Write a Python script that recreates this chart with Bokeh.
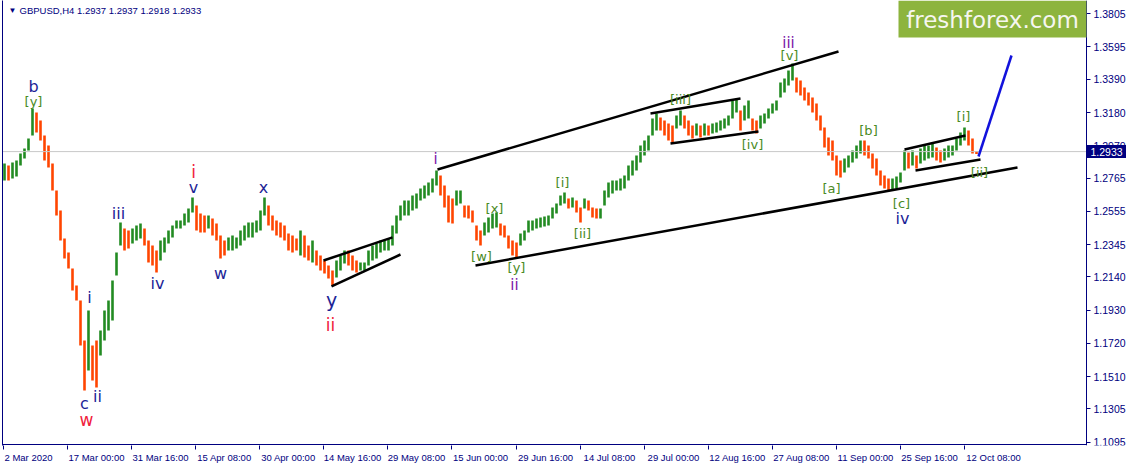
from bokeh.plotting import figure
from bokeh.models import (FixedTicker, LinearAxis, Range1d, Label,
                          BoxAnnotation, ColumnDataSource)
from bokeh.core.properties import value
from bokeh.embed import file_html
from bokeh.resources import INLINE

# ---------------- data ----------------
# aggregated H4 bars (each entry = 4 H4 bars), first at bar index 2
bar_step = 4
highs = [
    1.2858, 1.2845, 1.2864, 1.2877, 1.2921, 1.2953, 1.3016, 1.3206, 1.3180, 1.3130,
    1.3035, 1.2972, 1.2858, 1.2687, 1.2561, 1.2383, 1.2295, 1.2194, 1.2086, 1.1991,
    1.1738, 1.1928, 1.1707, 1.1738, 1.1801, 1.1928, 1.1991, 1.2118, 1.2295, 1.2485,
    1.2447, 1.2434, 1.2447, 1.2466, 1.2478, 1.2447, 1.2371, 1.2339, 1.2308, 1.2371,
    1.2390, 1.2434, 1.2466, 1.2497, 1.2497, 1.2542, 1.2573, 1.2643, 1.2592, 1.2542,
    1.2529, 1.2529, 1.2510, 1.2478, 1.2402, 1.2371, 1.2390, 1.2402, 1.2390, 1.2434,
    1.2466, 1.2485, 1.2485, 1.2497, 1.2561, 1.2643, 1.2592, 1.2529, 1.2497, 1.2485,
    1.2466, 1.2415, 1.2402, 1.2383, 1.2434, 1.2402, 1.2339, 1.2371, 1.2308, 1.2276,
    1.2244, 1.2213, 1.2181, 1.2244, 1.2276, 1.2308, 1.2308, 1.2276, 1.2244, 1.2232,
    1.2232, 1.2308, 1.2339, 1.2352, 1.2371, 1.2371, 1.2383, 1.2466, 1.2529, 1.2592,
    1.2624, 1.2624, 1.2655, 1.2668, 1.2700, 1.2719, 1.2738, 1.2763, 1.2814, 1.2782,
    1.2719, 1.2655, 1.2636, 1.2687, 1.2687, 1.2592, 1.2592, 1.2561, 1.2466, 1.2434,
    1.2485, 1.2516, 1.2542, 1.2548, 1.2478, 1.2466, 1.2402, 1.2371, 1.2358, 1.2415,
    1.2434, 1.2497, 1.2497, 1.2510, 1.2516, 1.2523, 1.2529, 1.2580, 1.2605, 1.2655,
    1.2674, 1.2636, 1.2643, 1.2624, 1.2580, 1.2636, 1.2624, 1.2580, 1.2573, 1.2573,
    1.2687, 1.2738, 1.2750, 1.2750, 1.2763, 1.2782, 1.2845, 1.2877, 1.2908, 1.2972,
    1.3003, 1.3035, 1.3143, 1.3174, 1.3149, 1.3130, 1.3111, 1.3098, 1.3162, 1.3193,
    1.3162, 1.3130, 1.3098, 1.3111, 1.3098, 1.3111, 1.3098, 1.3111, 1.3117, 1.3130,
    1.3143, 1.3162, 1.3256, 1.3269, 1.3193, 1.3225, 1.3256, 1.3143, 1.3130, 1.3162,
    1.3174, 1.3206, 1.3237, 1.3256, 1.3370, 1.3396, 1.3446, 1.3490, 1.3402, 1.3383,
    1.3339, 1.3307, 1.3275, 1.3237, 1.3162, 1.3086, 1.3022, 1.3003, 1.2908, 1.2877,
    1.2889, 1.2908, 1.2940, 1.2972, 1.3003, 1.3003, 1.2972, 1.2921, 1.2889, 1.2814,
    1.2782, 1.2763, 1.2763, 1.2776, 1.2801, 1.2940, 1.2927, 1.2940, 1.2908, 1.2953,
    1.2972, 1.2972, 1.2984, 1.2959, 1.2940, 1.2953, 1.2972, 1.2972, 1.3016, 1.3054,
    1.3086, 1.3067, 1.3016, 1.2937,
]
lows = [
    1.2750, 1.2750, 1.2763, 1.2776, 1.2845, 1.2889, 1.2940, 1.3035, 1.3054, 1.3003,
    1.2877, 1.2833, 1.2687, 1.2529, 1.2371, 1.2257, 1.2194, 1.2054, 1.1991, 1.1707,
    1.1422, 1.1548, 1.1485, 1.1441, 1.1643, 1.1738, 1.1801, 1.1865, 1.2149, 1.2339,
    1.2308, 1.2320, 1.2352, 1.2371, 1.2383, 1.2339, 1.2232, 1.2213, 1.2168, 1.2244,
    1.2295, 1.2352, 1.2390, 1.2447, 1.2447, 1.2466, 1.2485, 1.2548, 1.2434, 1.2421,
    1.2421, 1.2447, 1.2402, 1.2371, 1.2257, 1.2276, 1.2308, 1.2308, 1.2320, 1.2339,
    1.2371, 1.2390, 1.2390, 1.2421, 1.2434, 1.2529, 1.2466, 1.2434, 1.2402, 1.2390,
    1.2371, 1.2308, 1.2295, 1.2308, 1.2276, 1.2263, 1.2244, 1.2232, 1.2213, 1.2181,
    1.2162, 1.2130, 1.2086, 1.2137, 1.2181, 1.2225, 1.2213, 1.2181, 1.2168, 1.2181,
    1.2181, 1.2213, 1.2244, 1.2257, 1.2295, 1.2308, 1.2308, 1.2339, 1.2415, 1.2497,
    1.2529, 1.2529, 1.2561, 1.2573, 1.2624, 1.2636, 1.2655, 1.2674, 1.2719, 1.2655,
    1.2580, 1.2485, 1.2478, 1.2592, 1.2605, 1.2516, 1.2510, 1.2485, 1.2371, 1.2339,
    1.2402, 1.2421, 1.2447, 1.2453, 1.2402, 1.2390, 1.2320, 1.2276, 1.2263, 1.2339,
    1.2371, 1.2421, 1.2434, 1.2447, 1.2453, 1.2459, 1.2466, 1.2510, 1.2542, 1.2592,
    1.2605, 1.2573, 1.2580, 1.2548, 1.2485, 1.2573, 1.2561, 1.2516, 1.2510, 1.2510,
    1.2592, 1.2643, 1.2668, 1.2687, 1.2687, 1.2700, 1.2750, 1.2782, 1.2814, 1.2864,
    1.2908, 1.2940, 1.3035, 1.3067, 1.3067, 1.3035, 1.3003, 1.2991, 1.3079, 1.3098,
    1.3079, 1.3035, 1.3016, 1.3035, 1.3022, 1.3035, 1.3035, 1.3048, 1.3054, 1.3067,
    1.3079, 1.3098, 1.3143, 1.3180, 1.3067, 1.3130, 1.3143, 1.3067, 1.3048, 1.3079,
    1.3111, 1.3143, 1.3174, 1.3193, 1.3275, 1.3307, 1.3351, 1.3383, 1.3307, 1.3288,
    1.3256, 1.3225, 1.3180, 1.3130, 1.3067, 1.2959, 1.2908, 1.2877, 1.2782, 1.2769,
    1.2801, 1.2833, 1.2864, 1.2889, 1.2921, 1.2908, 1.2889, 1.2826, 1.2782, 1.2719,
    1.2700, 1.2687, 1.2687, 1.2700, 1.2738, 1.2814, 1.2826, 1.2845, 1.2826, 1.2858,
    1.2877, 1.2889, 1.2896, 1.2877, 1.2864, 1.2877, 1.2896, 1.2908, 1.2940, 1.2972,
    1.3003, 1.2972, 1.2921, 1.2918,
]
last_price = 1.2933
title_text = "GBPUSD,H4  1.2937 1.2937 1.2918 1.2933"

# date ticks (H4 bar index) and their labels
date_ticks = [1, 65, 129, 193, 257, 321, 385, 449, 514, 578, 642, 706, 770, 834, 898, 962]
date_labels = ["2 Mar 2020", "17 Mar 00:00", "31 Mar 16:00", "15 Apr 08:00",
               "30 Apr 00:00", "14 May 16:00", "29 May 08:00", "15 Jun 00:00",
               "29 Jun 16:00", "14 Jul 08:00", "29 Jul 00:00", "12 Aug 16:00",
               "27 Aug 08:00", "11 Sep 00:00", "25 Sep 16:00", "12 Oct 08:00"]
price_ticks = [1.3805, 1.3595, 1.3390, 1.3180, 1.2970, 1.2765, 1.2555, 1.2345,
               1.2140, 1.1930, 1.1720, 1.1510, 1.1305, 1.1095]

# trend lines: (bar0, price0, bar1, price1)
trend_lines = [
    (435, 1.2820, 836, 1.3566),
    (473, 1.2213, 1015, 1.2833),
    (321, 1.2244, 390, 1.2390),
    (329, 1.2080, 398, 1.2282),
    (648, 1.3174, 738, 1.3269),
    (668, 1.2984, 756, 1.3060),
    (902, 1.2946, 963, 1.3035),
    (913, 1.2814, 978, 1.2883),
]
forecast_line = (976, 1.2902, 1009, 1.3541)

# wave labels: (text, bar, price)
navy_labels = [("b", 31, 1.3345), ("c", 82, 1.1340), ("i", 87, 1.2010), ("ii", 95, 1.1384),
               ("iii", 116, 1.2542), ("iv", 155, 1.2099), ("v", 191, 1.2706),
               ("w", 218, 1.2162), ("x", 261, 1.2706), ("iv", 900, 1.2510)]
navy_big_labels = [("y", 329, 1.1997)]
red_labels = [("w", 84, 1.1232), ("i", 191, 1.2801), ("ii", 328, 1.1833)]
purple_labels = [("i", 433, 1.2889), ("ii", 512, 1.2092), ("iii", 786, 1.3623)]
green_labels = [("[y]", 31, 1.3250), ("[w]", 479, 1.2270), ("[x]", 492, 1.2573),
                ("[y]", 514, 1.2200), ("[i]", 560, 1.2738), ("[ii]", 580, 1.2415),
                ("[iii]", 678, 1.3263), ("[iv]", 750, 1.2978), ("[v]", 787, 1.3541),
                ("[a]", 829, 1.2700), ("[b]", 866, 1.3067), ("[c]", 899, 1.2605),
                ("[i]", 961, 1.3155), ("[ii]", 977, 1.2801)]

# ---------------- styles ----------------
NAVY = "#000080"
UP = "#228B22"
DOWN = "#FF4500"
AX_FONT = "Liberation Sans"
PX = 0.0006326          # price per screen pixel (for the small price tag box)

chart_right = 1084      # chart area ends here; price scale is drawn to its right
x_lo, x_hi = 0, 1124
y_lo, y_hi = 1.1080 - PX, 1.3889

p = figure(width=1126, height=465, x_range=Range1d(x_lo, x_hi),
           y_range=Range1d(y_lo, y_hi), y_axis_location=None,
           toolbar_location=None, output_backend="svg",
           min_border_left=2, min_border_top=0, min_border_right=0,
           min_border_bottom=20)
p.grid.visible = False
p.outline_line_color = None
p.background_fill_color = "white"
p.border_fill_color = "white"

# bars
n = len(highs)
xs = [2 + bar_step * i for i in range(n)]
mids = [(h + l) / 2 for h, l in zip(highs, lows)]
colors = [UP] + [UP if mids[i] >= mids[i - 1] else DOWN for i in range(1, n)]
src = ColumnDataSource(dict(x=xs, top=highs, bottom=lows, color=colors))
p.vbar(x="x", top="top", bottom="bottom", width=2.6, fill_color="color",
       line_color=None, source=src)

# current price line and bottom border of the chart area
p.segment(x0=[0], y0=[last_price], x1=[chart_right], y1=[last_price],
          line_color="#C8C8C8", line_width=1)
p.segment(x0=[0], y0=[1.1080], x1=[chart_right], y1=[1.1080],
          line_color=NAVY, line_width=1)

# trend lines
p.segment(x0=[t[0] for t in trend_lines], y0=[t[1] for t in trend_lines],
          x1=[t[2] for t in trend_lines], y1=[t[3] for t in trend_lines],
          line_color="black", line_width=2.5)
p.segment(x0=[forecast_line[0]], y0=[forecast_line[1]], x1=[forecast_line[2]],
          y1=[forecast_line[3]], line_color="#1212DC", line_width=2.5)


def add_labels(items, color, size):
    p.text(x=[t[1] for t in items], y=[t[2] for t in items], text=[t[0] for t in items],
           text_color=color, text_font=value("DejaVu Sans"), text_font_size=size,
           text_align="center", text_baseline="middle")


add_labels(navy_labels, "#1C2496", "16px")
add_labels(navy_big_labels, "#1C2496", "19px")
add_labels(red_labels, "#F0203C", "17px")
add_labels(purple_labels, "#7A1AA8", "15px")
add_labels(green_labels, "#4A8A24", "13px")

# price scale pinned to the right edge of the chart area
ya = LinearAxis(fixed_location=chart_right, ticker=FixedTicker(ticks=price_ticks),
                major_label_overrides={t: f"{t:.4f}" for t in price_ticks},
                axis_line_color=NAVY, major_tick_line_color=NAVY,
                major_tick_out=4, major_tick_in=0, minor_tick_line_color=None,
                major_label_standoff=3, major_label_text_color=NAVY,
                major_label_text_font=AX_FONT, major_label_text_font_size="10.5px")
p.add_layout(ya, "right")

# current price tag
p.add_layout(BoxAnnotation(left=chart_right, right=x_hi,
                           bottom=last_price - 6.5 * PX, top=last_price + 6.5 * PX,
                           fill_color=NAVY, fill_alpha=1, line_alpha=0))
p.add_layout(Label(x=chart_right + 4, y=last_price, text=f"{last_price:.4f}",
                   text_align="left", text_baseline="middle", text_color="white",
                   text_font=AX_FONT, text_font_size="10.5px"))

# bottom date axis: labels start right after their tick mark
xa = p.xaxis[0]
centers = [d + (25 if i == 0 else 29) for i, d in enumerate(date_ticks)]
xa.ticker = FixedTicker(ticks=centers, minor_ticks=date_ticks)
xa.major_label_overrides = {c: lab for c, lab in zip(centers, date_labels)}
xa.axis_line_color = None
xa.major_tick_line_color = None
xa.major_tick_out = 4
xa.major_tick_in = 0
xa.minor_tick_line_color = NAVY
xa.minor_tick_out = 4
xa.minor_tick_in = 0
xa.major_label_standoff = 2
xa.major_label_text_color = NAVY
xa.major_label_text_font = AX_FONT
xa.major_label_text_font_size = "9.5px"

# left frame line
la = LinearAxis(ticker=FixedTicker(ticks=[]), axis_line_color=NAVY,
                major_tick_out=0, major_tick_in=0, minor_tick_out=0, minor_tick_in=0,
                major_label_standoff=0, major_label_text_font_size="0px")
p.add_layout(la, "left")

# logo
p.add_layout(BoxAnnotation(left=896, right=chart_right, bottom=1.3655, top=y_hi,
                           fill_color="#8DB43E", fill_alpha=1, line_alpha=0))
p.add_layout(Label(x=990, y=1.3763, text="freshforex.com", text_align="center",
                   text_baseline="middle", text_color="#F6F6F0",
                   text_font="DejaVu Sans", text_font_size="23px"))

# title
p.add_layout(Label(x=6, y=1.3826, text="\u25bc", text_align="left",
                   text_baseline="middle", text_color=NAVY, text_font=AX_FONT,
                   text_font_size="8px"))
p.add_layout(Label(x=17, y=1.3826, text=title_text, text_align="left",
                   text_baseline="middle", text_color=NAVY, text_font=AX_FONT,
                   text_font_size="9.5px"))

open("out.html", "w").write(file_html(p, INLINE))
